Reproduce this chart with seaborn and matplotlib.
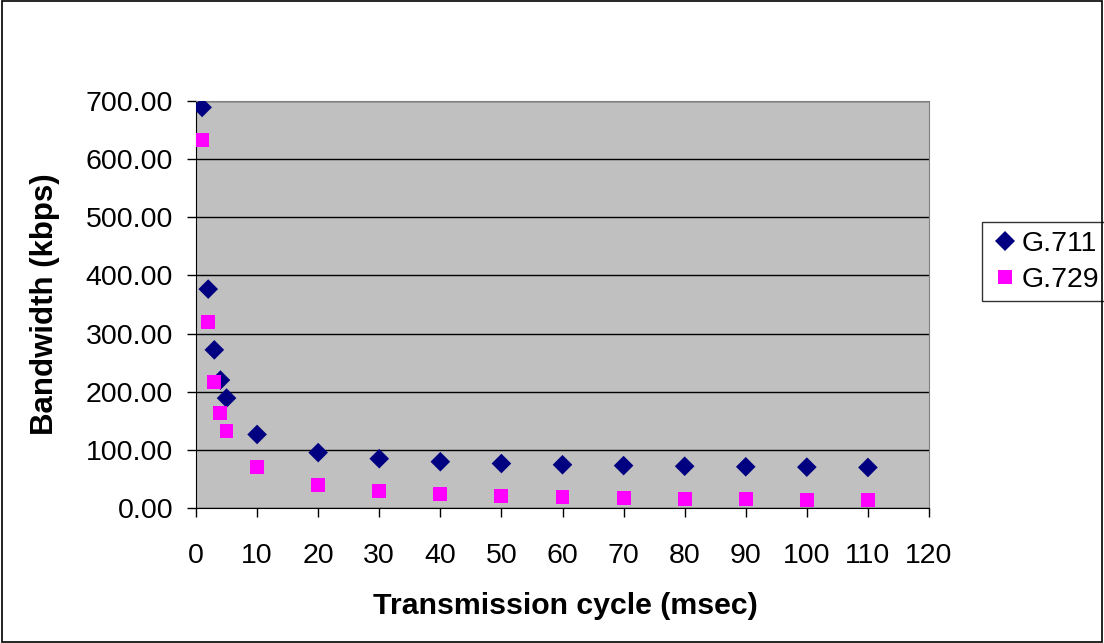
import numpy as np
import pandas as pd
import matplotlib
matplotlib.use("Agg")
import matplotlib.pyplot as plt
import seaborn as sns

# transmission cycle (msec)
cycle = [1, 2, 3, 4, 5, 10, 20, 30, 40, 50, 60, 70, 80, 90, 100, 110]
# bandwidth (kbps)
g711 = [689, 376.5, 272, 220, 189, 126.5, 95.3, 84.8, 79.6, 76.5, 74.4, 72.9, 71.8, 70.9, 70.3, 69.7]
g729 = [633, 320.5, 216, 164, 133, 70.5, 39.3, 28.8, 23.6, 20.5, 18.4, 16.9, 15.8, 14.9, 14.3, 13.7]

df = pd.concat([
    pd.DataFrame({"cycle": cycle, "bw": g711, "codec": "G.711"}),
    pd.DataFrame({"cycle": cycle, "bw": g729, "codec": "G.729"}),
])

sns.set_style("white")
plt.rcParams['font.family'] = ['Liberation Sans', 'DejaVu Sans']
plt.rcParams['text.color'] = "black"
plt.rcParams['axes.labelcolor'] = "black"

fig = plt.figure(figsize=(11.04, 6.43), dpi=100)
ax = fig.add_axes([196/1104, 1-508/643, (929-196)/1104, (508-101)/643])

sns.scatterplot(data=df, x="cycle", y="bw", hue="codec", style="codec",
                markers={"G.711": "D", "G.729": "s"},
                palette={"G.711": "#000080", "G.729": "#FF00FF"},
                s=110, linewidth=0, ax=ax, zorder=3)
for coll, sz in zip(ax.collections, [100, 160]):
    coll.set_sizes([sz])

ax.set_facecolor("#C0C0C0")
ax.set_xlim(0, 120)
ax.set_ylim(0, 700)
ax.set_xticks(range(0, 121, 10))
ax.set_yticks(range(0, 701, 100))
ax.set_yticklabels([f"{v:.2f}" for v in range(0, 701, 100)])
ax.yaxis.grid(True, color="black", linewidth=1)
ax.set_axisbelow(True)
for side in ["top", "right"]:
    ax.spines[side].set_color("#808080")
for side in ["left", "bottom"]:
    ax.spines[side].set_color("black")
ax.tick_params(axis="both", direction="out", length=6.5, width=1, colors="black",
               labelsize=20.5, bottom=True, left=True)
ax.tick_params(axis="y", pad=10)
ax.tick_params(axis="x", pad=19)
ax.set_xlabel("Transmission cycle (msec)", fontsize=21.8, fontweight="bold", color="black")
ax.set_ylabel("Bandwidth (kbps)", fontsize=22.5, fontweight="bold", color="black")
ax.xaxis.set_label_coords(565/733 - 196/733, (508-592)/407)
ax.yaxis.set_label_coords((60-196)/733, 0.5)

h, l = ax.get_legend_handles_labels()
leg = ax.legend(h, l, loc="upper left", bbox_to_anchor=(982/1104, 1-222/643),
                bbox_transform=fig.transFigure, fontsize=20.5, frameon=True,
                fancybox=False, edgecolor="black", handletextpad=0.1,
                borderpad=0.3, labelspacing=0.35, handlelength=1.0, borderaxespad=0)
leg.get_frame().set_linewidth(1)
for t in leg.get_texts():
    t.set_color("black")

# chart border
fig.patches.append(plt.Rectangle((0.002, 0.002), 0.996, 0.996, transform=fig.transFigure,
                                 fill=False, edgecolor="black", linewidth=1.2))

fig.savefig("out.png", dpi=100)
